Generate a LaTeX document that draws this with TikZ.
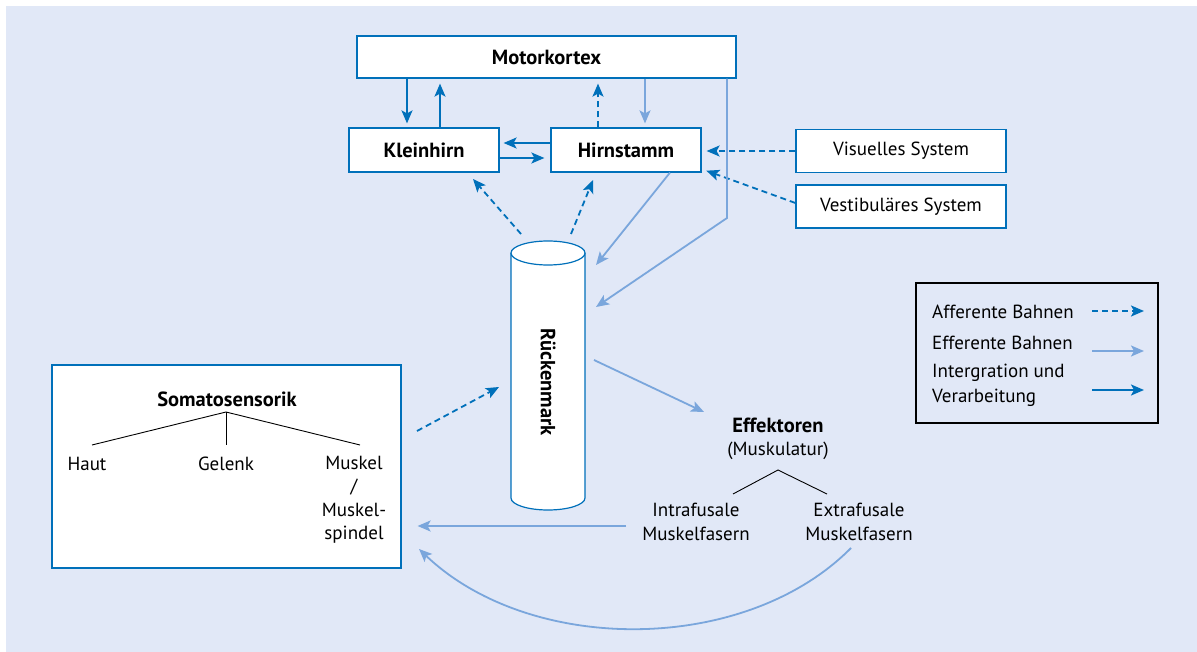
\documentclass[tikz,border=0pt]{standalone}
\usepackage{fontspec}
\setmainfont{PT Sans}
\usetikzlibrary{arrows.meta}

\definecolor{bgblue}{RGB}{225,232,247}
\definecolor{dblue}{RGB}{0,112,186}
\definecolor{lblue}{RGB}{122,166,220}

\tikzset{
  box/.style={draw=dblue, fill=white, line width=1.2pt, inner sep=0pt},
  txt/.style={inner sep=0pt, font=\fontsize{19}{24}\selectfont},
  btxt/.style={inner sep=0pt, font=\bfseries\fontsize{20.5}{24}\selectfont},
  tip/.style={-{Stealth[length=13pt,width=11pt,inset=3pt]}},
  intarr/.style={tip, draw=dblue, line width=1.8pt},
  effarr/.style={tip, draw=lblue, line width=1.8pt},
  affarr/.style={tip, draw=dblue, line width=1.8pt, dash pattern=on 6pt off 4pt},
  branch/.style={draw=black, line width=0.9pt}
}

\begin{document}
\begin{tikzpicture}[x=1pt,y=-1pt]
  \useasboundingbox (0,0) rectangle (1197,652);
  \fill[bgblue] (6,6) rectangle (1197,652);

  % boxes
  \node[box, btxt, minimum width=379pt, minimum height=42pt] (mk) at (546.5,57) {Motorkortex};
  \node[box, btxt, minimum width=150pt, minimum height=44pt] (kl) at (424,150) {Kleinhirn};
  \node[box, btxt, minimum width=150pt, minimum height=44pt] (hs) at (626,150) {Hirnstamm};
  \node[box, txt, minimum width=210pt, minimum height=43pt] (vis) at (901,151) {Visuelles System};
  \node[box, txt, minimum width=210pt, minimum height=43pt] (vest) at (901,206.5) {Vestibuläres System};
  \node[box, minimum width=349pt, minimum height=203pt] (soma) at (226.5,466.5) {};
  \node[draw=black, fill=bgblue, line width=1.2pt, minimum width=242pt, minimum height=140pt] (leg) at (1037,353) {};

  % Rueckenmark
  \fill[white] (511,253) -- (511,498) arc[start angle=180, end angle=360, x radius=37, y radius=-12] -- (585,253) -- cycle;
  \draw[dblue, line width=1.2pt] (511,253) -- (511,498) arc[start angle=180, end angle=360, x radius=37, y radius=-12] -- (585,253);
  \draw[dblue, line width=1.2pt, fill=white] (548,253) ellipse[x radius=37, y radius=12];
  \node[btxt, rotate=-90] (rm) at (548,382) {Rückenmark};

  % free ends at the cylinder
  \coordinate (rmkl) at (521,234);
  \coordinate (rmhs) at (571,234);
  \coordinate (rmin1) at (596,265);
  \coordinate (rmin2) at (596,307);
  \coordinate (rmin3) at (499,387);
  \coordinate (rmout) at (594,360);
  \coordinate (mkbend) at (727,218);
  \coordinate (sofrom) at (417,431);

  % Effektoren
  \node[btxt] (eff) at (778,425) {Effektoren};
  \node[txt] (musk) at (778,451) {(Muskulatur)};
  \node[txt, align=center] (intra) at (696,521.5) {Intrafusale\\Muskelfasern};
  \node[txt, align=center] (extra) at (859,521.5) {Extrafusale\\Muskelfasern};
  \coordinate (eapex) at (778,470);
  \coordinate (effin) at (704,412);
  \draw[branch] (733,494) -- (eapex) -- (827,494);

  % Somatosensorik
  \node[btxt] (somat) at (227,399) {Somatosensorik};
  \node[txt] (haut) at (87,464) {Haut};
  \node[txt] (gel) at (226,464) {Gelenk};
  \node[txt, align=center, font=\fontsize{19}{23.5}\selectfont] (mus) at (354,499.5) {Muskel\\/\\Muskel-\\spindel};
  \coordinate (sapex) at (226,412);
  \draw[branch] (92,445) -- (sapex) -- (360,445);
  \draw[branch] (sapex) -- (226,445);

  % connections
  \draw[intarr, shorten >=4pt] (mk.south -| 407,0) -- (kl.north -| 407,0);
  \draw[intarr, shorten >=5pt] (kl.north -| 440,0) -- (mk.south -| 440,0);
  \draw[affarr, shorten >=5pt] (hs.north -| 598,0) -- (mk.south -| 598,0);
  \draw[effarr, shorten >=4pt] (mk.south -| 645,0) -- (hs.north -| 645,0);
  \draw[intarr, shorten >=4pt] (hs.west |- 0,143) -- (kl.east |- 0,143);
  \draw[intarr, shorten >=6pt] (kl.east |- 0,158) -- (hs.west |- 0,158);
  \draw[affarr, shorten >=5pt] (vis.west) -- (hs.east |- vis.west);
  \draw[affarr, shorten >=5pt] (vest.west |- 0,203) -- (hs.east |- 0,169);
  \draw[effarr] (mk.south -| mkbend) -- (mkbend) -- (rmin2);
  \draw[effarr] (hs.south -| 670,0) -- (rmin1);
  \draw[affarr] (rmkl) -- (473,179);
  \draw[affarr] (rmhs) -- (593,180);
  \draw[affarr] (sofrom) -- (rmin3);
  \draw[effarr] (rmout) -- (effin);
  \draw[effarr] (626,526) -- (soma.east |- 0,526) [shorten >=16pt];
  \draw[effarr] (851,548) .. controls (745,655) and (530,655) .. (419,549);

  % legend
  \node[txt, anchor=west] (laff) at (932,312) {Afferente Bahnen};
  \node[txt, anchor=west] (leff) at (932,343) {Efferente Bahnen};
  \node[txt, anchor=west, align=left, font=\fontsize{19}{25}\selectfont] (lint) at (932,385.5) {Intergration und\\Verarbeitung};
  \draw[affarr] (1092,311) -- (1144,311);
  \draw[effarr] (1092,351) -- (1144,351);
  \draw[intarr] (1092,390) -- (1144,390);
\end{tikzpicture}
\end{document}
